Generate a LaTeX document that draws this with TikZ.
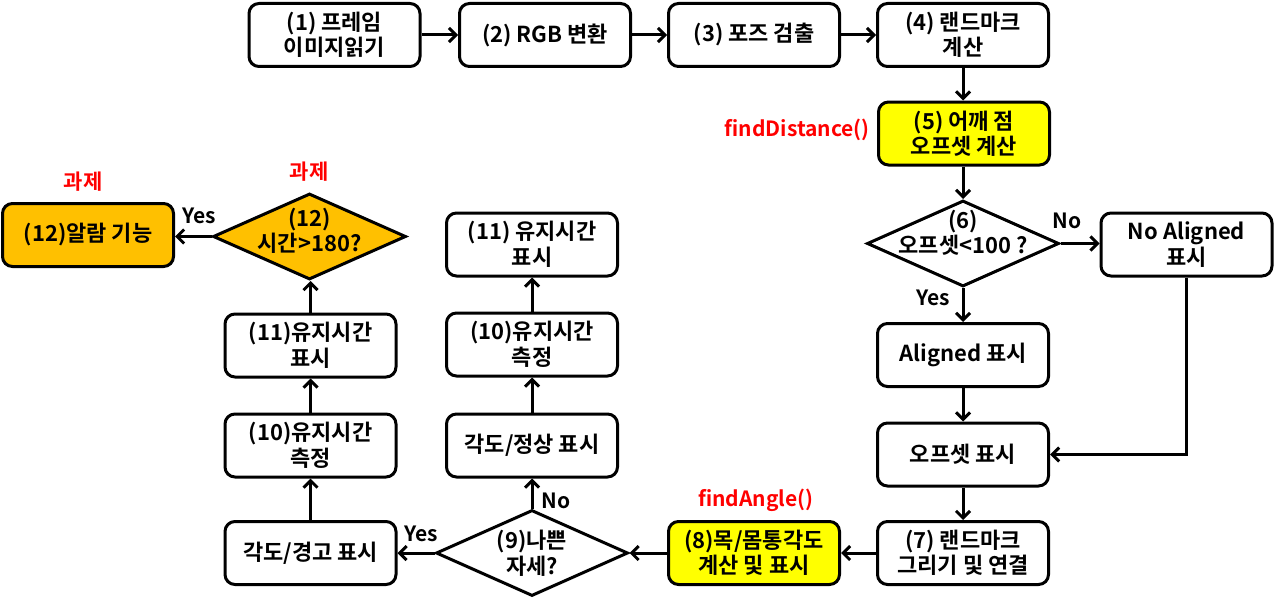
\documentclass[tikz,border=0pt]{standalone}
\usepackage{fontspec}
\setmainfont{Noto Sans CJK KR}[BoldFont={Noto Sans CJK KR Bold}]
\usetikzlibrary{shapes.geometric,arrows.meta}
\definecolor{yel}{HTML}{FFFF00}
\definecolor{org}{HTML}{FFC000}
\definecolor{redt}{HTML}{FF0000}
\begin{document}
\begin{tikzpicture}[x=1pt,y=-1pt,
  txt/.style={font=\bfseries\fontsize{22}{25.5}\selectfont},
  box/.style={txt,draw,line width=3pt,rounded corners=10pt,minimum width=171pt,minimum height=63pt,align=center,inner sep=0pt},
  dia/.style={draw,diamond,line width=3pt,inner sep=0pt,minimum width=192pt,minimum height=86pt},
  dtxt/.style={txt,align=center,inner sep=0pt},
  arr/.style={line width=3pt,-{Straight Barb[length=7pt,width=14pt,line width=3pt]}},
  lab/.style={font=\bfseries\fontsize{21}{24}\selectfont,inner sep=0pt},
  redlab/.style={font=\bfseries\fontsize{21}{24}\selectfont,text=redt,inner sep=0pt}]
\useasboundingbox (0,0) rectangle (1274,602);
% top row
\node[box] (b1) at (334.5,35) {(1) 프레임\\이미지읽기};
\node[box] (b2) at (545,35) {(2) RGB 변환};
\node[box] (b3) at (754,35) {(3) 포즈 검출};
\node[box] (b4) at (963,35) {(4) 랜드마크\\계산};
% right column
\node[box,fill=yel] (b5) at (964,133.5) {(5) 어깨 점\\오프셋 계산};
\node[dia] (d6) at (963,243.5) {};
\node[dtxt] (t6) at (963,233) {(6)\\오프셋<100 ?};
\node[box] (nal) at (1186.5,244.5) {No Aligned\\표시};
\node[box] (al) at (963,355) {Aligned 표시};
\node[box] (off) at (963,454.5) {오프셋 표시};
\node[box] (b7) at (963,553) {(7) 랜드마크\\그리기 및 연결};
% bottom row
\node[box,fill=yel] (b8) at (754,553) {(8)목/몸통각도\\계산 및 표시};
\node[dia] (d9) at (532,553) {};
\node[dtxt] (t9) at (532,553) {(9)나쁜\\자세?};
\node[box] (warn) at (310.5,553) {각도/경고 표시};
% middle column
\node[box] (norm) at (532,445.5) {각도/정상 표시};
\node[box] (m10) at (532,344.5) {(10)유지시간\\측정};
\node[box] (m11) at (532,244.5) {(11) 유지시간\\표시};
% left column
\node[box] (l10) at (310.5,445.5) {(10)유지시간\\측정};
\node[box] (l11) at (310.5,345.5) {(11)유지시간\\표시};
\node[dia,fill=org,minimum width=193pt] (d12) at (309.5,236.5) {};
\node[dtxt] (t12) at (309.5,231) {(12)\\시간>180?};
\node[box,fill=org] (alarm) at (88,235) {(12)알람 기능};
% labels
\node[redlab,anchor=east] (fd) at (870,130) {findDistance()};
\node[redlab] (fa) at (756,500) {findAngle()};
\node[redlab] (k1) at (83,182) {과제};
\node[redlab] (k2) at (309,172) {과제};
\node[lab] (y12) at (199,216) {Yes};
\node[lab] (n6) at (1067,221) {No};
\node[lab] (y6) at (933,298) {Yes};
\node[lab] (n9) at (556,501) {No};
\node[lab] (y9) at (421,534) {Yes};
% connectors
\draw[arr] (b1) -- (b2);
\draw[arr] (b2) -- (b3);
\draw[arr] (b3) -- (b4);
\draw[arr] (b4) -- (b4 |- b5.north);
\draw[arr] (b5.south -| d6.north) -- (d6.north);
\draw[arr] (d6.east) -- (d6.east -| nal.west);
\draw[arr] (d6.south) -- (al.north);
\draw[arr] (al) -- (off);
\draw[arr] (nal.south) |- (off.east);
\draw[arr] (off) -- (b7);
\draw[arr] (b7) -- (b8);
\draw[arr] (b8.west) -- (d9.east);
\draw[arr] (d9.west) -- (warn.east);
\draw[arr] (d9.north) -- (norm.south);
\draw[arr] (norm) -- (m10);
\draw[arr] (m10) -- (m11);
\draw[arr] (warn) -- (l10);
\draw[arr] (l10) -- (l11);
\draw[arr] (l11.north) -- (l11.north |- d12.south);
\draw[arr] (d12.west) -- (d12.west -| alarm.east);
\end{tikzpicture}
\end{document}
